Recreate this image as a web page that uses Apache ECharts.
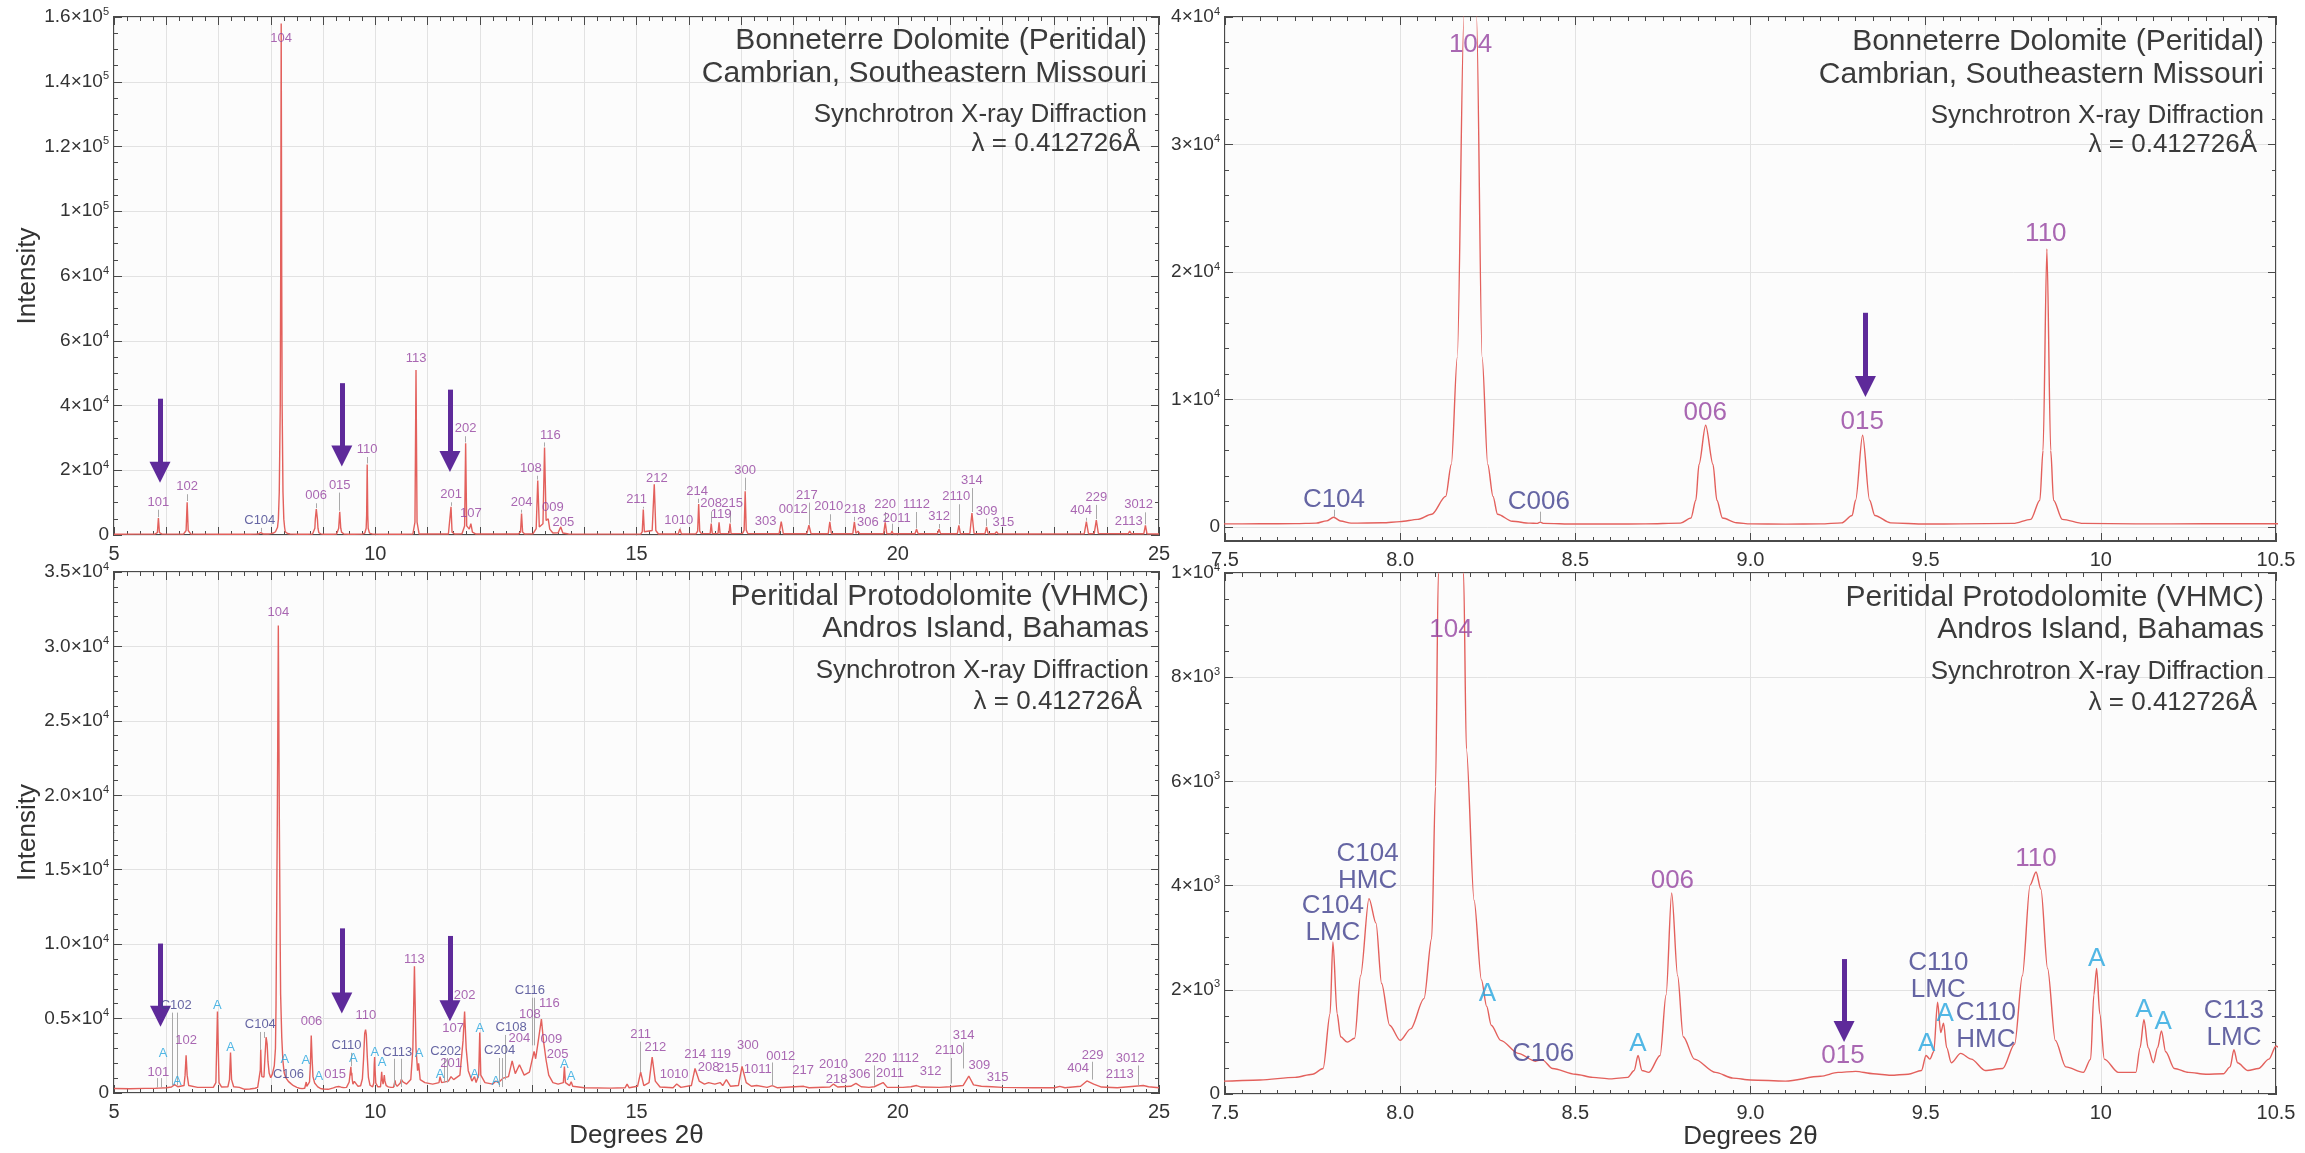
<!DOCTYPE html>
<html><head><meta charset="utf-8">
<script src="https://cdn.jsdelivr.net/npm/echarts@6/dist/echarts.min.js"></script>
<style>html,body{margin:0;padding:0;background:#fff}#c{width:2305px;height:1153px}</style>
</head><body><div id="c"></div>
<script>
// ---------------- DATA ----------------
// Bonneterre Dolomite pattern: [2theta, intensity]
const bonneterrePattern = [
[5.00,250],[5.40,260],[5.78,270],[5.83,700],[5.85,5200],[5.87,700],[5.92,270],
[6.33,290],[6.38,1400],[6.40,10100],[6.42,1400],[6.47,290],
[7.00,240],[7.50,240],[7.60,250],[7.70,260],[7.76,300],[7.79,480],[7.81,760],[7.83,470],[7.86,300],[7.95,330],[8.00,420],[8.05,600],[8.09,1000],[8.13,2400],[8.146,4900],[8.163,13300],[8.182,40000],[8.19,80000],[8.20,158000],[8.21,80000],[8.218,40000],[8.234,13300],[8.25,4900],[8.265,2400],[8.278,1000],[8.32,450],[8.37,300],[8.39,280],[8.40,380],[8.41,280],[8.50,230],[8.60,230],[8.70,240],[8.80,300],[8.83,700],[8.844,2100],[8.853,4900],[8.872,7980],[8.893,4900],[8.904,2100],[8.92,700],[8.96,330],[9.00,240],[9.10,220],[9.20,240],[9.26,320],[9.29,900],[9.30,2100],[9.32,7200],[9.34,2100],[9.355,900],[9.40,320],[9.50,230],[9.60,240],[9.75,280],[9.80,600],[9.826,2100],[9.835,6000],[9.846,21800],[9.857,6000],[9.865,2100],[9.89,600],[9.95,280],[10.10,240],[10.30,250],[10.50,250],
[10.72,300],[10.76,4000],[10.78,51000],[10.80,4000],[10.84,300],
[11.40,300],[11.43,900],[11.45,8700],[11.47,900],[11.52,320],
[11.66,400],[11.71,2800],[11.73,28300],[11.75,2800],[11.80,1800],[11.83,3500],[11.86,900],[11.92,330],
[12.74,300],[12.78,900],[12.80,6600],[12.82,900],[12.86,320],
[13.02,400],[13.08,2000],[13.11,16800],[13.14,2500],[13.17,2200],[13.21,3500],[13.24,27000],[13.27,4500],[13.31,5000],[13.34,1800],[13.40,600],[13.50,700],[13.55,2500],[13.59,600],[13.70,300],
[14.50,280],[15.08,300],[15.11,1000],[15.13,7900],[15.15,1000],[15.30,1400],[15.34,15700],[15.37,1400],[15.42,320],
[15.80,300],[15.83,1900],[15.86,300],
[16.14,400],[16.17,1200],[16.19,9600],[16.21,1200],[16.24,420],
[16.41,420],[16.43,3500],[16.45,420],[16.56,420],[16.58,3900],[16.60,420],[16.77,420],[16.79,3500],[16.81,420],
[17.03,500],[17.06,1500],[17.08,13500],[17.10,1500],[17.13,450],
[17.73,400],[17.77,4100],[17.81,400],
[18.26,400],[18.30,3000],[18.34,400],
[18.67,400],[18.70,4100],[18.73,400],
[19.14,400],[19.17,4100],[19.20,500],[19.24,1200],[19.27,400],
[19.73,400],[19.76,3900],[19.79,400],[19.87,400],[19.89,1200],[19.91,400],
[20.33,380],[20.36,1800],[20.39,380],
[20.76,380],[20.79,1800],[20.82,380],
[21.14,380],[21.17,3000],[21.20,380],
[21.38,450],[21.42,6800],[21.46,450],
[21.67,400],[21.70,2500],[21.73,400],
[21.86,380],[21.89,1000],[21.92,380],
[22.50,330],[23.57,400],[23.61,4100],[23.65,400],[23.76,420],[23.80,4600],[23.84,420],
[24.41,380],[24.44,1200],[24.47,380],
[24.71,400],[24.74,3000],[24.77,400],[25.00,320]
];

// Andros Island protodolomite pattern: [2theta, intensity]
const androsPattern = [
[5.00,300],[5.30,290],[5.60,310],[5.80,320],[5.83,420],[5.86,330],[6.00,350],[6.10,400],[6.16,560],[6.22,420],[6.34,500],[6.36,1200],[6.38,2540],[6.40,1200],[6.43,500],[6.60,380],[6.90,380],[6.95,700],[6.98,5470],[7.01,700],[7.06,400],[7.18,420],[7.21,900],[7.23,2720],[7.25,900],[7.29,420],[7.40,380],
[7.50,247],[7.60,270],[7.70,320],[7.75,380],[7.78,490],[7.80,1540],[7.808,2920],[7.82,1540],[7.83,1100],[7.849,995],[7.87,1070],[7.887,2270],[7.911,3750],[7.931,3280],[7.947,2120],[7.97,1320],[8.00,1030],[8.03,1250],[8.068,1830],[8.09,2990],[8.101,5900],[8.109,10000],[8.125,18000],[8.145,31400],[8.165,18000],[8.181,10000],[8.189,6620],[8.211,3720],[8.232,2190],[8.247,1680],[8.26,1320],[8.287,1030],[8.337,780],[8.386,630],[8.405,660],[8.435,490],[8.50,380],[8.55,320],[8.60,290],[8.65,320],[8.668,450],[8.679,740],[8.69,450],[8.71,415],[8.742,740],[8.759,1900],[8.775,3860],[8.792,2270],[8.808,1100],[8.84,670],[8.90,415],[8.95,305],[9.00,270],
[9.10,247],[9.20,340],[9.25,415],[9.30,435],[9.35,390],[9.40,360],[9.45,380],[9.488,450],[9.501,740],[9.512,670],[9.523,810],[9.534,1760],[9.543,1180],[9.551,1360],[9.56,890],[9.573,600],[9.60,780],[9.63,670],[9.67,450],[9.72,490],[9.754,960],[9.776,2270],[9.798,4010],[9.815,4260],[9.829,3930],[9.848,2410],[9.87,1030],[9.90,520],[9.95,415],[9.971,670],[9.98,1900],[9.988,2410],[9.997,1540],[10.01,670],[10.05,415],[10.10,415],[10.112,890],[10.123,1430],[10.135,890],[10.15,600],[10.162,890],[10.173,1210],[10.185,810],[10.21,490],[10.25,415],[10.30,380],[10.35,390],[10.369,520],[10.38,850],[10.39,600],[10.42,450],[10.45,490],[10.48,670],[10.50,920],
[10.53,750],[10.60,600],[10.68,900],[10.72,3000],[10.75,8520],[10.78,3000],[10.81,1500],[10.83,2000],[10.86,900],[10.95,700],[11.10,600],[11.22,700],[11.24,1100],[11.27,700],[11.40,800],[11.45,1100],[11.50,900],[11.62,1200],[11.68,3500],[11.71,5470],[11.74,3000],[11.78,1500],[11.85,800],[11.90,1100],[11.93,700],[11.98,1200],[12.00,4070],[12.02,1200],[12.10,700],[12.25,600],[12.31,800],[12.36,700],[12.45,1000],[12.55,1100],[12.62,2160],[12.68,1300],[12.76,1900],[12.85,1200],[12.95,1400],[13.02,2500],[13.04,2800],[13.07,2300],[13.12,3500],[13.18,4960],[13.22,3500],[13.27,2200],[13.32,1200],[13.40,700],[13.50,600],[13.60,700],[13.62,1780],[13.64,700],[13.72,500],[13.75,760],[13.78,450],[14.00,350],[14.50,330],[14.78,350],[14.82,600],[14.86,350],[15.02,450],[15.08,1400],[15.14,500],[15.24,700],[15.30,2410],[15.36,800],[15.45,400],[15.70,350],[15.77,600],[15.85,380],[16.05,500],[16.12,1650],[16.20,800],[16.30,600],[16.38,700],[16.50,600],[16.60,700],[16.65,500],[16.72,900],[16.80,450],[16.95,500],[17.02,1780],[17.10,700],[17.20,450],[17.30,500],[17.50,380],[17.60,500],[17.70,350],[18.20,450],[18.30,350],[18.70,400],[18.77,600],[18.85,400],[19.10,450],[19.20,650],[19.30,420],[19.45,380],[19.55,420],[19.72,700],[19.80,380],[20.10,380],[20.25,420],[20.36,500],[20.45,400],[20.80,380],[21.00,420],[21.25,500],[21.36,1140],[21.45,550],[21.60,450],[21.80,420],[22.00,380],[22.60,350],[23.00,350],[23.10,450],[23.20,350],[23.50,450],[23.62,810],[23.75,600],[23.90,400],[24.20,350],[24.70,500],[24.80,420],[25.00,350]
];

// Peak labels: [text, 2theta, intensity, kind]  kind: d = dolomite, c = calcite, a = aragonite
const tlLabels = [
['101',5.85,10100,'d'],['102',6.40,14900,'d'],['C104',7.79,4400,'c'],['104',8.20,153500,'d'],['006',8.87,12100,'d'],['015',9.32,15400,'d'],['110',9.846,26400,'d'],['113',10.78,54600,'d'],['201',11.45,12400,'d'],['202',11.73,32800,'d'],['107',11.83,6600,'d'],['204',12.80,10100,'d'],['108',12.98,20600,'d'],['116',13.35,30900,'d'],['009',13.40,8500,'d'],['205',13.60,3900,'d'],
['211',15.00,11000,'d'],['212',15.39,17600,'d'],['1010',15.81,4600,'d'],['214',16.16,13500,'d'],['208',16.43,9600,'d'],['119',16.62,6300,'d'],['215',16.83,9800,'d'],['300',17.08,20000,'d'],['303',17.47,4100,'d'],['0012',18.00,7900,'d'],['217',18.26,12300,'d'],['2010',18.68,8700,'d'],['218',19.18,7900,'d'],['306',19.43,3900,'d'],['220',19.76,9400,'d'],['2011',19.98,5200,'d'],['1112',20.36,9400,'d'],['312',20.79,5700,'d'],['2110',21.12,11800,'d'],['314',21.42,16800,'d'],['309',21.70,7400,'d'],['315',22.02,3900,'d'],['404',23.51,7600,'d'],['229',23.80,11600,'d'],['2113',24.42,4300,'d'],['3012',24.61,9300,'d']
];
const trLabels = [
['C104',7.811,2150,'c'],['104',8.201,37800,'d'],['C006',8.396,1960,'c'],['006',8.871,8960,'d'],['015',9.319,8260,'d'],['110',9.843,22960,'d']
];
const blLabels = [
['101',5.85,1350,'d'],['A',5.94,2670,'a'],['C102',6.19,5900,'c'],['A',6.21,810,'a'],['102',6.38,3500,'d'],['A',6.98,5850,'a'],['A',7.23,3050,'a'],['C104',7.80,4580,'c'],['104',8.145,32300,'d'],['A',8.27,2240,'a'],['C106',8.34,1270,'c'],['A',8.67,2160,'a'],['006',8.78,4780,'d'],['A',8.92,1140,'a'],['015',9.23,1220,'d'],['C110',9.45,3180,'c'],['A',9.58,2340,'a'],['110',9.82,5210,'d'],['A',9.99,2745,'a'],['A',10.13,2030,'a'],['C113',10.42,2745,'c'],['113',10.75,8970,'d'],['A',10.84,2670,'a'],['A',11.24,1270,'a'],['C202',11.35,2800,'c'],['201',11.45,1980,'d'],['107',11.49,4320,'d'],['202',11.71,6560,'d'],['A',11.90,1270,'a'],['A',12.00,4320,'a'],['A',12.31,810,'a'],['C204',12.38,2850,'c'],['C108',12.60,4400,'c'],['204',12.76,3690,'d'],['C116',12.96,6860,'c'],['108',12.96,5260,'d'],['116',13.33,6050,'d'],['009',13.37,3610,'d'],['205',13.49,2590,'d'],['A',13.62,1900,'a'],['A',13.75,1140,'a'],
['211',15.08,3940,'d'],['212',15.36,3050,'d'],['1010',15.72,1270,'d'],['214',16.12,2590,'d'],['208',16.38,1730,'d'],['119',16.61,2620,'d'],['215',16.75,1650,'d'],['300',17.13,3180,'d'],['1011',17.32,1580,'d'],['0012',17.76,2490,'d'],['217',18.19,1530,'d'],['2010',18.77,1900,'d'],['218',18.83,890,'d'],['306',19.27,1220,'d'],['220',19.57,2290,'d'],['2011',19.85,1320,'d'],['1112',20.15,2290,'d'],['312',20.63,1470,'d'],['2110',20.98,2850,'d'],['314',21.26,3890,'d'],['309',21.56,1830,'d'],['315',21.91,1070,'d'],['404',23.45,1650,'d'],['229',23.73,2540,'d'],['2113',24.25,1220,'d'],['3012',24.45,2290,'d']
];
const brLabels = [
['C104\nLMC',7.808,3355,'c'],['C104\nHMC',7.907,4345,'c'],['104',8.145,8910,'d'],['A',8.249,1920,'a'],['C106',8.408,780,'c'],['A',8.679,970,'a'],['006',8.777,4100,'d'],['015',9.264,730,'d'],['A',9.503,960,'a'],['C110\nLMC',9.536,2255,'c'],['A',9.556,1540,'a'],['C110\nHMC',9.672,1295,'c'],['110',9.815,4520,'d'],['A',9.988,2590,'a'],['A',10.123,1610,'a'],['A',10.178,1390,'a'],['C113\nLMC',10.38,1345,'c']
];

// Leader ticks under labels: [2theta, from intensity, to intensity]
const tlLeaders = [
[5.85,5500,7800],[6.40,10500,12600],[7.81,1000,2200],[8.87,8300,9800],[9.32,7500,13100],[9.846,22100,24100],[11.45,9000,10100],[11.73,28600,30500],[12.80,6900,7800],[13.11,17100,18300],[13.24,27300,28600],[15.13,8200,8700],[15.83,2000,2300],[16.19,9900,11200],[16.43,3800,7300],[16.79,3800,7500],[17.08,13800,17700],[18.30,3200,10000],[18.70,4400,6400],[19.17,4400,5600],[19.76,4200,7100],[19.89,1300,3500],[20.36,2000,7100],[20.79,2000,3400],[21.17,3300,9500],[21.42,7100,14500],[21.70,2800,5100],[23.61,4400,5300],[23.80,4900,9300],[24.74,3300,7000]
];
const trLeaders = [[7.811,800,1350],[8.40,400,1200]];
const blLeaders = [
[5.83,380,1000],[5.90,380,1000],[6.12,500,5400],[6.21,500,5400],[7.79,2900,4100],[7.88,3700,4100],[9.55,1800,2700],[10.37,400,2300],[10.50,400,2300],[11.32,700,2350],[11.38,700,2350],[12.38,400,2350],[12.43,400,2350],[12.49,900,3900],[13.00,3200,6400],[13.05,3200,6400],[15.08,1400,3450],[17.59,500,2050],[19.55,500,1850],[21.02,640,2350],[21.25,1650,3400],[23.73,900,2100],[24.60,500,1850]
];
const brLeaders = [];

// Purple arrows: [2theta, tail intensity, head-centre intensity]
const tlArrows = [[5.88,42100,19400],[9.36,46900,24400],[11.43,44900,22700]];
const trArrows = [[9.328,16800,11020]];
const blArrows = [[5.89,10040,5150],[9.36,11060,6040],[11.43,10550,5530]];
const brArrows = [[9.267,2590,1200]];

// Tick labels
const tlXTickValues = [5,10,15,20,25];
const tlXTickLabels = ['5','10','15','20','25'];
const tlYTickValues = [0,20000,40000,60000,80000,100000,120000,140000,160000];
const tlYTickLabels = ['0','2×10^4','4×10^4','6×10^4','6×10^4','1×10^5','1.2×10^5','1.4×10^5','1.6×10^5'];
const trXTickValues = [7.5,8,8.5,9,9.5,10,10.5];
const trXTickLabels = ['7.5','8.0','8.5','9.0','9.5','10','10.5'];
const trYTickValues = [0,10000,20000,30000,40000];
const trYTickLabels = ['0','1×10^4','2×10^4','3×10^4','4×10^4'];
const blYTickValues = [0,5000,10000,15000,20000,25000,30000,35000];
const blYTickLabels = ['0','0.5×10^4','1.0×10^4','1.5×10^4','2.0×10^4','2.5×10^4','3.0×10^4','3.5×10^4'];
const brYTickValues = [0,2000,4000,6000,8000,10000];
const brYTickLabels = ['0','2×10^3','4×10^3','6×10^3','8×10^3','1×10^4'];

const topTitle = ['Bonneterre Dolomite (Peritidal)','Cambrian, Southeastern Missouri'];
const bottomTitle = ['Peritidal Protodolomite (VHMC)','Andros Island, Bahamas'];
const methodText = ['Synchrotron X-ray Diffraction','λ = 0.412726Å'];

// ---------------- CHART ----------------
const FONT = '"Liberation Sans", Arial, Helvetica, sans-serif';
const TXT = '#333333';
const FRAME = '#4a4a4a';
const GRIDC = '#e2e2e2';
const LINEC = '#e3605c';
const ARROWC = '#5e2a9a';
const KIND = {d:'#93419f', c:'#3e3e8c', a:'#25a5de'};

function sup(s){ const p = s.split('^'); return p.length > 1 ? '{a|'+p[0]+'}{s|'+p[1]+'}' : '{a|'+s+'}'; }
function lookup(vals, labs, useSup){
  return function(v){ const i = vals.findIndex(t => Math.abs(t - v) < 1e-6); if (i < 0) return ''; return useSup ? sup(labs[i]) : labs[i]; };
}
const richY = {
  a:{fontSize:19, color:TXT, fontFamily:FONT, lineHeight:22},
  s:{fontSize:11, color:TXT, fontFamily:FONT, lineHeight:10, verticalAlign:'top'}
};

const grids = [
  {left:114, top:17, width:1045, height:518},
  {left:1225, top:17, width:1051, height:524},
  {left:114, top:572, width:1045, height:521},
  {left:1225, top:573, width:1051, height:521}
].map(g => Object.assign(g, {show:true, borderColor:FRAME, borderWidth:2, backgroundColor:'#fcfcfc', containLabel:false}));

const xAxis = [], yAxis = [];
const noLine = {show:false, onZero:false};
const tickStyle = {inside:true, length:8, lineStyle:{color:FRAME, width:1}};
function minor(n){ return {show:true, splitNumber:n, length:4, lineStyle:{color:FRAME, width:1}}; }

const xSpec = [
  {min:5, max:25, interval:1, minorN:4, vals:tlXTickValues, labs:tlXTickLabels, name:''},
  {min:7.5, max:10.5, interval:0.5, minorN:10, vals:trXTickValues, labs:trXTickLabels, name:''},
  {min:5, max:25, interval:1, minorN:4, vals:tlXTickValues, labs:tlXTickLabels, name:'Degrees 2θ'},
  {min:7.5, max:10.5, interval:0.5, minorN:10, vals:trXTickValues, labs:trXTickLabels, name:'Degrees 2θ'}
];
const xBottomIdx = [];
xSpec.forEach((s, g) => {
  xBottomIdx.push(xAxis.length);
  xAxis.push({type:'value', gridIndex:g, min:s.min, max:s.max, interval:s.interval, position:'bottom',
    axisLine:noLine, axisTick:tickStyle, minorTick:minor(s.minorN),
    splitLine:{show:true, lineStyle:{color:GRIDC, width:1}},
    axisLabel:{customValues:s.vals, formatter:lookup(s.vals, s.labs, false), color:TXT, fontSize:20, fontFamily:FONT, margin:9},
    name:s.name, nameLocation:'middle', nameGap:30, nameTextStyle:{fontSize:26, color:TXT, fontFamily:FONT}});
  xAxis.push({type:'value', gridIndex:g, min:s.min, max:s.max, interval:s.interval, position:'top',
    axisLine:noLine, axisTick:tickStyle, minorTick:minor(s.minorN), splitLine:{show:false}, axisLabel:{show:false}});
});

const yLeftIdx = [];
// TL
yLeftIdx.push(yAxis.length);
yAxis.push({type:'value', gridIndex:0, min:0, max:160000, interval:20000, position:'left', axisLine:noLine, axisTick:tickStyle, minorTick:minor(4),
  splitLine:{show:true, lineStyle:{color:GRIDC}}, axisLabel:{customValues:tlYTickValues, formatter:lookup(tlYTickValues, tlYTickLabels, true), rich:richY, margin:5},
  name:'Intensity', nameLocation:'middle', nameGap:72, nameTextStyle:{fontSize:26, color:TXT, fontFamily:FONT}});
yAxis.push({type:'value', gridIndex:0, min:0, max:160000, interval:20000, position:'right', axisLine:noLine, axisTick:tickStyle, minorTick:minor(4), splitLine:{show:false}, axisLabel:{show:false}});
// TR (frame extends below zero)
const trMinorVals = []; for (let v = 0; v <= 40000; v += 2000) trMinorVals.push(v);
yLeftIdx.push(yAxis.length);
yAxis.push({type:'value', gridIndex:1, min:-1100, max:40000, position:'left', axisLine:noLine,
  axisTick:Object.assign({customValues:trYTickValues}, tickStyle),
  splitLine:{show:true, lineStyle:{color:GRIDC}}, axisLabel:{customValues:trYTickValues, formatter:lookup(trYTickValues, trYTickLabels, true), rich:richY, margin:5}});
yAxis.push({type:'value', gridIndex:1, min:-1100, max:40000, position:'left', axisLine:noLine,
  axisTick:{customValues:trMinorVals, inside:true, length:4, lineStyle:{color:FRAME}}, splitLine:{show:false}, axisLabel:{show:false}});
yAxis.push({type:'value', gridIndex:1, min:-1100, max:40000, position:'right', axisLine:noLine,
  axisTick:Object.assign({customValues:trYTickValues}, tickStyle), splitLine:{show:false}, axisLabel:{show:false}});
yAxis.push({type:'value', gridIndex:1, min:-1100, max:40000, position:'right', axisLine:noLine,
  axisTick:{customValues:trMinorVals, inside:true, length:4, lineStyle:{color:FRAME}}, splitLine:{show:false}, axisLabel:{show:false}});
// BL
yLeftIdx.push(yAxis.length);
yAxis.push({type:'value', gridIndex:2, min:0, max:35000, interval:5000, position:'left', axisLine:noLine, axisTick:tickStyle, minorTick:minor(5),
  splitLine:{show:true, lineStyle:{color:GRIDC}}, axisLabel:{customValues:blYTickValues, formatter:lookup(blYTickValues, blYTickLabels, true), rich:richY, margin:5},
  name:'Intensity', nameLocation:'middle', nameGap:72, nameTextStyle:{fontSize:26, color:TXT, fontFamily:FONT}});
yAxis.push({type:'value', gridIndex:2, min:0, max:35000, interval:5000, position:'right', axisLine:noLine, axisTick:tickStyle, minorTick:minor(5), splitLine:{show:false}, axisLabel:{show:false}});
// BR
yLeftIdx.push(yAxis.length);
yAxis.push({type:'value', gridIndex:3, min:0, max:10000, interval:2000, position:'left', axisLine:noLine, axisTick:tickStyle, minorTick:minor(4),
  splitLine:{show:true, lineStyle:{color:GRIDC}}, axisLabel:{customValues:brYTickValues, formatter:lookup(brYTickValues, brYTickLabels, true), rich:richY, margin:5}});
yAxis.push({type:'value', gridIndex:3, min:0, max:10000, interval:2000, position:'right', axisLine:noLine, axisTick:tickStyle, minorTick:minor(4), splitLine:{show:false}, axisLabel:{show:false}});

const panels = [
  {pattern:bonneterrePattern, labels:tlLabels, leaders:tlLeaders, arrows:tlArrows, fs:13, lh:15, smooth:false},
  {pattern:bonneterrePattern, labels:trLabels, leaders:trLeaders, arrows:trArrows, fs:26, lh:27, smooth:0.3},
  {pattern:androsPattern, labels:blLabels, leaders:blLeaders, arrows:blArrows, fs:13, lh:15, smooth:false},
  {pattern:androsPattern, labels:brLabels, leaders:brLeaders, arrows:brArrows, fs:26, lh:27, smooth:0.3}
];

const series = [];
panels.forEach((p, g) => {
  const xi = xBottomIdx[g], yi = yLeftIdx[g];
  series.push({type:'line', xAxisIndex:xi, yAxisIndex:yi, data:p.pattern, showSymbol:false, symbol:'none', clip:true, silent:true,
    smooth:p.smooth, smoothMonotone:'x',
    lineStyle:{color:LINEC, width:1.4}, z:2,
    markLine:{silent:true, symbol:['none','none'], label:{show:false}, animation:false,
      lineStyle:{color:'#a9a9a9', width:1, type:'solid'},
      data:p.leaders.map(l => [{coord:[l[0], l[1]]}, {coord:[l[0], l[2]]}])}});
  series.push({type:'scatter', xAxisIndex:xi, yAxisIndex:yi, symbol:'circle', symbolSize:1, silent:true, z:5,
    itemStyle:{color:'rgba(0,0,0,0)'},
    data:p.labels.map(l => ({name:l[0], value:[l[1], l[2]], label:{color:KIND[l[3]]}})),
    label:{show:true, position:'inside', formatter:'{b}', fontSize:p.fs, lineHeight:p.lh, fontFamily:FONT},
    markLine:{silent:true, symbol:['none','triangle'], symbolSize:21, label:{show:false}, animation:false,
      lineStyle:{color:ARROWC, width:5, type:'solid', opacity:1}, itemStyle:{color:ARROWC},
      data:p.arrows.map(a => [{coord:[a[0], a[1]]}, {coord:[a[0], a[2]]}])}});
});

function titleBlock(rightX, ys, lines1, lines2){
  const s = (t, x, y, fs) => ({type:'text', x:x, y:y, silent:true, z:100,
    style:{text:t, fill:'#3a3a3a', fontSize:fs, fontFamily:FONT, align:'right', verticalAlign:'middle', textAlign:'right', textVerticalAlign:'middle'}});
  return [s(lines1[0], rightX, ys[0], 30), s(lines1[1], rightX, ys[1], 30), s(lines2[0], rightX, ys[2], 26), s(lines2[1], rightX - 7, ys[3], 26)];
}
const graphic = [].concat(
  titleBlock(1147, [41,74,115,144], topTitle, methodText),
  titleBlock(2264, [42,75,116,145], topTitle, methodText),
  titleBlock(1149, [597,629,671,702], bottomTitle, methodText),
  titleBlock(2264, [598,630,672,703], bottomTitle, methodText)
);

const chart = echarts.init(document.getElementById('c'), null, {renderer:'canvas'});
chart.setOption({animation:false, backgroundColor:'#ffffff', grid:grids, xAxis:xAxis, yAxis:yAxis, series:series, graphic:graphic});
</script></body></html>
